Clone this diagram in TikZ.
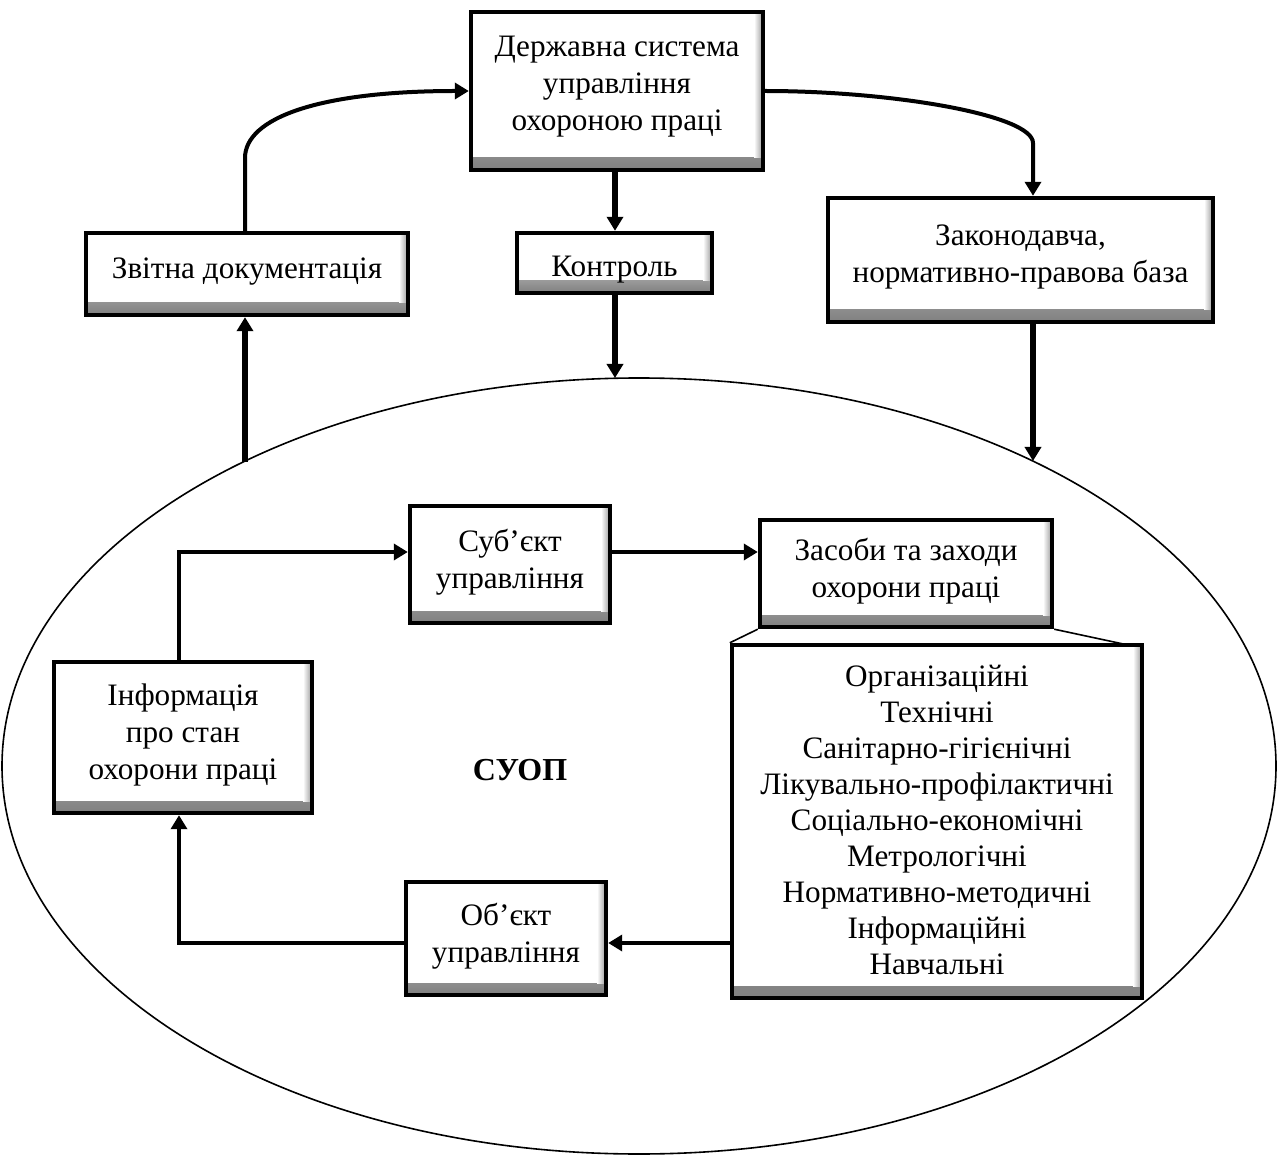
\documentclass[tikz,border=0pt]{standalone}
\usepackage{fontspec}
\setmainfont{Liberation Serif}
\usetikzlibrary{arrows.meta,shapes.geometric,calc}
\newcommand{\boxfont}{\fontsize{15.6pt}{18.5pt}\selectfont}
\newcommand{\listfont}{\fontsize{15.6pt}{18pt}\selectfont}
\tikzset{
  box/.style={draw, line width=2.2pt, fill=white, align=center, font=\boxfont, inner sep=2pt,
    path picture={
      \shade[top color=white, bottom color=black!50]
        ([yshift=6pt]path picture bounding box.south west) rectangle (path picture bounding box.south east);
      \shade[left color=white, right color=black!40]
        ([xshift=-4.5pt]path picture bounding box.north east) rectangle ([yshift=6pt]path picture bounding box.south east);
    }},
  arr/.style={line width=2pt, -{Triangle[length=7pt,width=8pt]}},
  arrthick/.style={line width=2.6pt, -{Triangle[length=7pt,width=8pt]}},
  thinline/.style={line width=0.8pt},
}
\begin{document}
\begin{tikzpicture}[x=0.5pt,y=-0.5pt]
\useasboundingbox (0,0) rectangle (1280,1160);
% big ellipse
\node[draw, ellipse, line width=0.8pt, minimum width=637pt, minimum height=388pt, inner sep=0pt] (suop) at (639,766) {};
\node[font=\bfseries\fontsize{16pt}{18pt}\selectfont] (lbl) at (520,770) {СУОП};

% boxes
\node[box, minimum width=146pt, minimum height=79pt, text depth=8pt] (gov) at (617,91) {Державна система\\управління\\охороною праці};
\node[box, minimum width=161pt, minimum height=41pt, text depth=6pt] (rep) at (247,274) {Звітна документація};
\node[box, minimum width=97.5pt, minimum height=30pt, text height=17pt] (ctrl) at (614.5,263) {Контроль};
\node[box, minimum width=192.5pt, minimum height=62pt, text depth=6pt] (law) at (1020.5,260) {Законодавча,\\нормативно-правова база};
\node[box, minimum width=100pt, minimum height=58.5pt, text depth=6pt] (subj) at (510,564.5) {Суб’єкт\\управління};
\node[box, minimum width=146pt, minimum height=53.5pt, text depth=6pt] (means) at (906,573.5) {Засоби та заходи\\охорони праці};
\node[box, font=\listfont, minimum width=205pt, minimum height=176.5pt, text depth=2pt] (list) at (937,821.5) {Організаційні\\Технічні\\Санітарно-гігієнічні\\Лікувально-профілактичні\\Соціально-економічні\\Метрологічні\\Нормативно-методичні\\Інформаційні\\Навчальні};
\node[box, minimum width=129pt, minimum height=75.5pt, text depth=6pt] (info) at (183,737.5) {Інформація\\про стан\\охорони праці};
\node[box, minimum width=100pt, minimum height=56.5pt, text depth=6pt] (obj) at (506,938.5) {Об’єкт\\управління};

% helper coordinates
\coordinate (eT) at (615,378);
\coordinate (eR) at (1033,461);
\coordinate (eL) at (245,462);
\coordinate (rbend) at (1033,143);
\coordinate (lbend) at (245,158);
\coordinate (c1) at (179,552);
\coordinate (c2) at (179,943);
\coordinate (c3) at (1128,645);

% connectors
\draw[arrthick] (gov.south -| eT) -- (ctrl.north -| eT);
\draw[arrthick] (ctrl.south -| eT) -- (eT);
\draw[arrthick] (eR |- law.south) -- (eR);
\draw[arrthick] (eL) -- (eL |- rep.south);
\draw[arr] (lbend |- rep.north) -- (lbend) .. controls +(0,-40) and +(-150,0) .. (gov.west);
\draw[arr] (gov.east) .. controls +(127,0) and +(0,-28) .. (rbend) -- (rbend |- law.north);
\draw[arr] (subj.east |- c1) -- (means.west |- c1);
\draw[arr] (c1 |- info.north) -- (c1) -- (subj.west |- c1);
\draw[arr] (list.west |- c2) -- (obj.east |- c2);
\draw[arr] (obj.west |- c2) -- (c2) -- (c2 |- info.south);
\draw[thinline] (means.south west) -- (list.north west);
\draw[thinline] (means.south east) -- (c3);
\end{tikzpicture}
\end{document}
